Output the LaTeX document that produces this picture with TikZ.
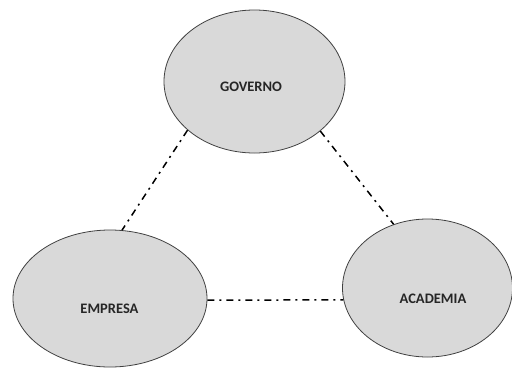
\documentclass[tikz,border=0pt]{standalone}
\usepackage{fontspec}
\setmainfont{Carlito}
\usetikzlibrary{shapes.geometric}
\definecolor{cfill}{HTML}{D9D9D9}
\definecolor{cedge}{HTML}{404040}
\tikzset{
  every picture/.style={font=\bfseries},
  actor/.style={ellipse, draw=cedge, fill=cfill, line width=0.8pt, inner sep=0pt},
  link/.style={draw=black, line width=1.5pt, dash pattern=on 7pt off 5pt on 2pt off 5pt},
  tag/.style={font=\fontsize{14.5}{16}\selectfont\bfseries, text=black!85, inner sep=0pt},
}
\begin{document}
\begin{tikzpicture}[x=1pt, y=-1pt]
  \useasboundingbox (0,0) rectangle (512,376);
  % the three actors, sized in pixels of the reference
  \node[actor, minimum width=181pt, minimum height=143pt] (gov) at (254.5,81.5) {};
  \node[actor, minimum width=194pt, minimum height=137pt] (emp) at (110,298.5) {};
  \node[actor, minimum width=170pt, minimum height=138pt] (aca) at (427.5,288) {};
  \node[tag] (govtxt) at (251,87) {GOVERNO};
  \node[tag] (emptxt) at (109.5,309) {EMPRESA};
  \node[tag] (acatxt) at (433,299) {ACADEMIA};
  % dash-dot links between them
  \draw[link] (gov.216.8) -- (emp.80.9);
  \draw[link] (gov.323) -- (aca.118.4);
  \draw[link] (emp.359) -- (aca.188.4);
\end{tikzpicture}
\end{document}
